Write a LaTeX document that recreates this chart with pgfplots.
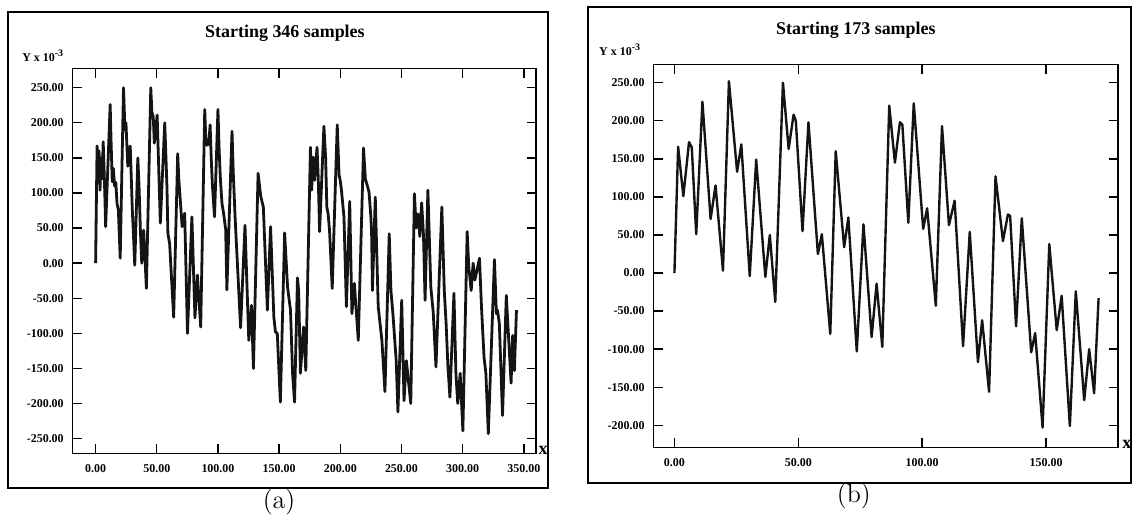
\documentclass[border=0pt]{standalone}
\usepackage{pgfplots}
\pgfplotsset{compat=1.18}
\usepackage{fontspec}
\newfontfamily\tnr{Liberation Serif}
\begin{document}
\begin{tikzpicture}
\path (0pt,0pt) rectangle (569pt,-260pt);
% panel frames
\draw[line width=0.9pt] (4pt,-6pt) rectangle (275pt,-245pt);
\draw[line width=0.9pt] (295pt,-3.5pt) rectangle (567.5pt,-242.5pt);
% titles and labels
\node[font=\tnr\bfseries\fontsize{9}{11}\selectfont] at (143pt,-16.5pt) {Starting 346 samples};
\node[font=\tnr\bfseries\fontsize{9}{11}\selectfont] at (429.5pt,-15pt) {Starting 173 samples};
\node[anchor=west,inner sep=0pt,font=\tnr\bfseries\fontsize{6}{7}\selectfont] at (11pt,-28pt) {Y x 10\textsuperscript{-3}};
\node[anchor=west,inner sep=0pt,font=\tnr\bfseries\fontsize{6}{7}\selectfont] at (300.5pt,-25pt) {Y x 10\textsuperscript{-3}};
\node[font=\tnr\bfseries\fontsize{9}{10}\selectfont] at (272.5pt,-226pt) {x};
\node[font=\tnr\bfseries\fontsize{9}{10}\selectfont] at (565.5pt,-223pt) {x};
\node[font=\fontsize{13}{15}\selectfont] at (140pt,-252pt) {(a)};
\node[font=\fontsize{13}{15}\selectfont] at (428.5pt,-249pt) {(b)};

\pgfplotsset{myax/.style={
  anchor=south west, scale only axis,
  axis line style={line width=0.7pt},
  tick align=inside, major tick length=4.5pt,
  tick style={line width=0.7pt,black},
  xtick pos=both, ytick pos=both,
  ticklabel style={font=\tnr\bfseries\fontsize{6}{7}\selectfont},
  xticklabel style={yshift=-2pt},
  yticklabel style={xshift=-1pt},
}}

\begin{axis}[myax,
  at={(36.5pt,-227.5pt)}, width=232.5pt, height=193pt,
  xmin=-18.7, xmax=360, ymin=-271, ymax=277,
  xtick={0,50,100,150,200,250,300,350},
  xticklabels={0.00,50.00,100.00,150.00,200.00,250.00,300.00,350.00},
  ytick={-250,-200,-150,-100,-50,0,50,100,150,200,250},
  yticklabels={-250.00,-200.00,-150.00,-100.00,-50.00,0.00,50.00,100.00,150.00,200.00,250.00},
]
\addplot[mark=none, line width=1.4pt, line join=round, color=black!92] coordinates {
(0,0) (1.2,167) (2,130) (2.8,160) (3.6,104) (4.5,150) (5.3,120) (6.2,173) (7,130) (7.5,100) (8.2,52)
(11.9,226) (12.7,170) (13.6,116) (14.5,135) (15.5,110) (16.5,115) (17.5,85) (18.6,76) (20.1,7)
(22.8,250) (24,190) (24.8,200) (26.3,138) (28.3,167) (29,130) (30,76) (31,38) (32,-3)
(34.5,150) (35.5,110) (36.6,47) (37.7,0) (39.3,47) (41.5,-36)
(45.1,250) (46,215) (47.1,209) (48,171) (50.3,211) (51,170) (52.9,57)
(56.5,200) (57.5,150) (58.3,110) (59.1,42) (60.5,28) (63.8,-77)
(67.1,156) (68,120) (69.4,85) (70.7,52) (72.8,71) (75.1,-100)
(78.7,66) (81.2,-78) (83.2,-17) (85.9,-91)
(89.2,219) (90,180) (91,168) (92.5,170) (93.6,197) (94.5,150) (95.5,110) (97.2,66)
(100,219) (101,160) (102,120) (103.3,85) (104.7,70) (106.3,48) (107.3,-38)
(111.5,188) (112.5,130) (114,66) (118.5,-92) (122.1,54) (125.2,-110) (127.4,-60) (129,-150)
(132.8,128) (135,95) (137.1,80) (140.4,-67) (143,52) (145.7,-77) (147,-98) (148.5,-100) (151,-198)
(154.5,43) (156.9,-34) (159.3,-67) (161,-157) (162.6,-198) (165,-21) (166,-40) (167.4,-157)
(170,-91) (171.8,-153)
(175.6,165) (176.6,104) (177.8,151) (179,118) (181,165) (182,120) (183.1,45)
(186.6,195) (188,151) (189,80) (190,71) (191.2,47) (193.4,-36)
(197.5,197) (199,126) (200,117) (201,103) (203,66) (205,-62) (207.7,88) (209.5,-72) (211.5,-29)
(213,-67) (214.7,-110) (219,164) (220.5,120) (222,111) (223.5,101) (225,66) (225.6,42) (226.3,-39)
(228.6,94) (231,-62) (234,-110) (236.5,-183) (240,42) (241.4,-39) (243,-72) (245.7,-139) (247.1,-212)
(250.2,-53) (252.1,-196) (254,-139) (257.6,-200) (260.6,99) (262,50) (263.5,70) (265,38) (266.5,86)
(268,40) (269.3,-53) (271.6,104) (274,-34) (276,-71) (278.2,-148) (283,80) (285,-39) (286.5,-86)
(288,-148) (289.6,-191) (292.9,-43) (294.5,-157) (296,-200) (298,-157) (300.2,-239)
(303.7,45) (305,-5) (307,-39) (308.6,0) (310,-24) (313.8,7) (315.4,-62) (317.5,-134) (319,-157) (321,-243)
(326,5) (327.6,-72) (328.5,-67) (330,-86) (332.6,-217) (335.7,-46) (339.6,-171) (340.9,-103) (342.3,-153) (344,-67)
};
\end{axis}

\begin{axis}[myax,
  at={(328pt,-224.5pt)}, width=233pt, height=192pt,
  xmin=-8.4, xmax=179, ymin=-229, ymax=273.6,
  xtick={0,50,100,150},
  xticklabels={0.00,50.00,100.00,150.00},
  ytick={-200,-150,-100,-50,0,50,100,150,200,250},
  yticklabels={-200.00,-150.00,-100.00,-50.00,0.00,50.00,100.00,150.00,200.00,250.00},
]
\addplot[mark=none, line width=1.2pt, line join=round, color=black!92] coordinates {
(0,0) (1.5,166) (3.6,101) (5.9,172) (7,165) (8.8,51) (11.3,225) (14.6,71) (16.6,115) (19.6,3)
(22,252) (25.3,133) (27,169) (30.4,-4) (33,149) (36.7,-5) (38.5,50) (40.7,-38)
(43.8,250) (46.1,163) (48.1,208) (49,200) (51.7,55) (54.1,198) (57.9,25) (59.5,51) (62.9,-80)
(65.1,160) (68.5,34) (70.2,73) (73.6,-103) (76.3,64) (79.6,-84) (81.6,-14) (83.9,-97)
(86.7,220) (89,145) (91,198) (92,195) (94.4,66) (96.6,223) (100.4,58) (102,85) (105.5,-43)
(108,193) (110.8,63) (113.1,95) (116.5,-96) (119.2,54) (122.5,-117) (124.2,-62) (127,-156)
(129.6,127) (132.6,42) (134.6,77) (135.5,75) (137.9,-70) (140.2,72) (144,-104) (145.6,-79) (148.6,-203)
(151.3,38) (154.3,-75) (156.3,-30) (159.6,-201) (162,-24) (165.4,-167) (167.4,-100) (169.4,-158) (171.2,-33)
};
\end{axis}
\end{tikzpicture}
\end{document}
